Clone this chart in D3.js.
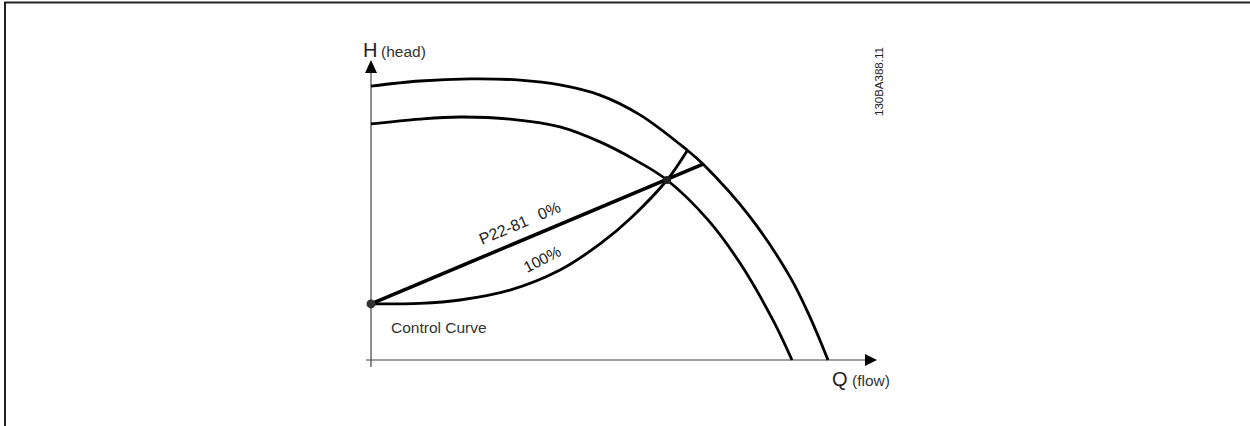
<!DOCTYPE html>
<html>
<head>
<meta charset="utf-8">
<script src="https://cdn.jsdelivr.net/npm/d3@7"></script>
<style>
  body { margin: 0; background: #fff; }
  svg { display: block; font-family: "Liberation Sans", Arial, sans-serif; }
</style>
</head>
<body>
<div id="chart"></div>
<script>
/* pump curves (Q = flow, H = head, 0..100 units) */
var outerQ = [0, 9.8, 19.8, 29.8, 37.8, 45.8, 53.8, 63.2, 66.4, 75.8, 83.8, 87.8, 91.4];
var outerH = [91.3, 93, 93.7, 93.3, 91.7, 88.3, 81.7, 70, 65.3, 47.7, 27.7, 14.3, 0];

var innerQ = [0, 9.8, 17.8, 27.8, 37.8, 45.8, 52.8, 59.2, 67.4, 73.8, 80.4, 84.2];
var innerH = [78.7, 80.3, 81, 80.3, 77.7, 72.7, 66.7, 60, 46.7, 32.3, 13.3, 0];

var fullQ = [0, 9.8, 17.8, 27.8, 37.8, 45.8, 52.2, 59.2, 63.2];
var fullH = [18.7, 18.9, 20, 23.3, 30, 38.7, 47.7, 60, 69.7];

var zeroQ = [0, 66.4];
var zeroH = [18.7, 65.3];

var workPoint = [59.2, 60];
var axisLabels = ["H", "(head)", "Q", "(flow)"];
var docCode = "130BA388.11";

var width = 1250, height = 426;

var svg = d3.select("#chart").append("svg")
    .attr("width", width)
    .attr("height", height);

// frame (left + top edges only)
svg.append("path")
    .attr("d", "M5,426 V2.5 H1250")
    .attr("fill", "none")
    .attr("stroke", "#222")
    .attr("stroke-width", 2);

var x = d3.scaleLinear().domain([0, 100]).range([371, 871]);
var y = d3.scaleLinear().domain([0, 100]).range([360, 60]);

function pts(qs, hs) {
  return qs.map(function(q, i) { return [q, hs[i]]; });
}

var line = d3.line()
    .x(function(d) { return x(d[0]); })
    .y(function(d) { return y(d[1]); })
    .curve(d3.curveCatmullRom.alpha(0.5));

/* axes */
svg.append("line")
    .attr("x1", x(0)).attr("y1", y(-2.3))
    .attr("x2", x(0)).attr("y2", y(96))
    .attr("stroke", "#444").attr("stroke-width", 1.2);
svg.append("line")
    .attr("x1", x(-1)).attr("y1", y(0))
    .attr("x2", x(99)).attr("y2", y(0))
    .attr("stroke", "#444").attr("stroke-width", 1.2);

svg.append("path")
    .attr("d", "M" + x(0) + "," + y(100) + " l-6,13 h12 z")
    .attr("fill", "#000");
svg.append("path")
    .attr("d", "M" + (x(100) + 6) + "," + y(0) + " l-12,-6 v12 z")
    .attr("fill", "#000");

/* curves */
var curves = [pts(outerQ, outerH), pts(innerQ, innerH), pts(fullQ, fullH)];
svg.selectAll("path.curve")
    .data(curves)
  .enter().append("path")
    .attr("class", "curve")
    .attr("d", line)
    .attr("fill", "none")
    .attr("stroke", "#000")
    .attr("stroke-width", 2.8);

svg.append("path")
    .attr("d", d3.line().x(function(d) { return x(d[0]); }).y(function(d) { return y(d[1]); })(pts(zeroQ, zeroH)))
    .attr("fill", "none")
    .attr("stroke", "#000")
    .attr("stroke-width", 3.6);

svg.append("circle")
    .attr("cx", x(zeroQ[0])).attr("cy", y(zeroH[0]))
    .attr("r", 4.5).attr("fill", "#333");
svg.append("circle")
    .attr("cx", x(workPoint[0])).attr("cy", y(workPoint[1]))
    .attr("r", 4).attr("fill", "#222");

/* labels */
svg.append("text")
    .attr("x", 363).attr("y", 57)
    .attr("font-size", 20).attr("fill", "#222")
    .text(axisLabels[0]);
svg.append("text")
    .attr("x", 381).attr("y", 57)
    .attr("font-size", 15.5).attr("fill", "#333")
    .text(axisLabels[1]);
svg.append("text")
    .attr("x", 832).attr("y", 386)
    .attr("font-size", 20).attr("fill", "#222")
    .text(axisLabels[2]);
svg.append("text")
    .attr("x", 852).attr("y", 386)
    .attr("font-size", 15.5).attr("fill", "#333")
    .text(axisLabels[3]);

var ang = Math.atan2(y(zeroH[1]) - y(zeroH[0]), x(zeroQ[1]) - x(zeroQ[0])) * 180 / Math.PI;
svg.append("text")
    .attr("transform", "translate(482,245) rotate(" + ang + ")")
    .attr("font-size", 16).attr("fill", "#222")
    .text("P22-81")
  .append("tspan")
    .attr("dx", 12)
    .text("0%");

svg.append("text")
    .attr("transform", "translate(527,273) rotate(-27)")
    .attr("font-size", 15.5).attr("fill", "#222")
    .text("100%");

svg.append("text")
    .attr("x", 391).attr("y", 333)
    .attr("font-size", 15.5).attr("fill", "#333")
    .text("Control Curve");

svg.append("text")
    .attr("transform", "translate(883,116) rotate(-90)")
    .attr("font-size", 11.5).attr("fill", "#222")
    .text(docCode);
</script>
</body>
</html>
